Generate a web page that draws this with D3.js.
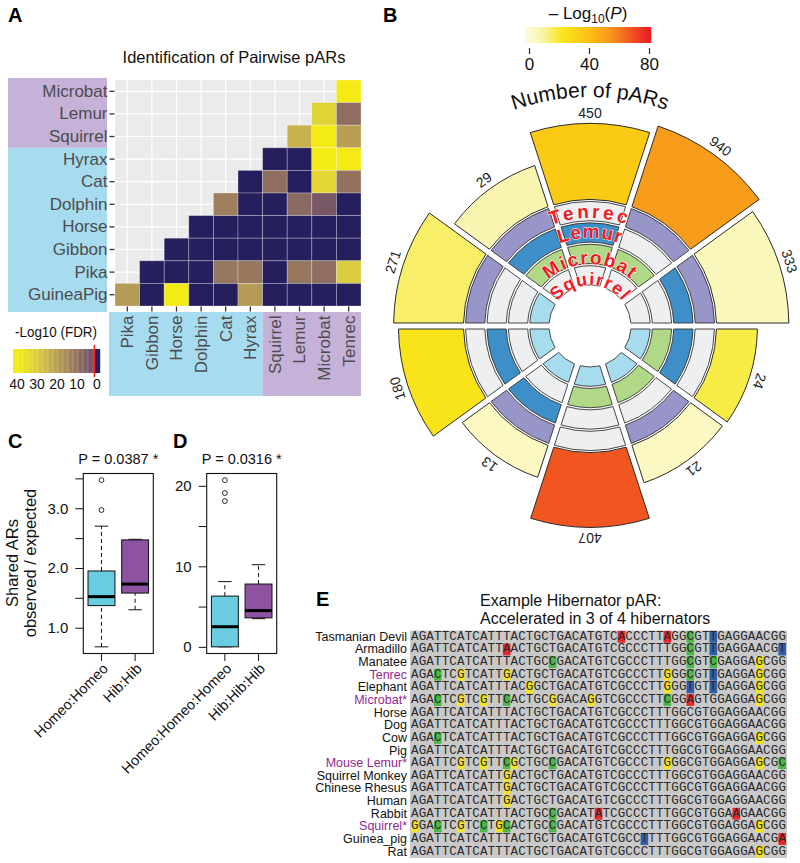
<!DOCTYPE html>
<html>
<head>
<meta charset="utf-8">
<script src="https://cdn.jsdelivr.net/npm/d3@7/dist/d3.min.js"></script>
<style>
  html,body{margin:0;padding:0;background:#ffffff;}
  svg{display:block;}
</style>
</head>
<body>
<svg id="fig" width="800" height="863" xmlns="http://www.w3.org/2000/svg"></svg>
<script>
// ================= DATA =================
// Panel A : pairwise pAR heatmap (-log10 FDR)
const heatRows = ["Microbat","Lemur","Squirrel","Hyrax","Cat","Dolphin","Horse","Gibbon","Pika","GuineaPig"];
const heatCols = ["Pika","Gibbon","Horse","Dolphin","Cat","Hyrax","Squirrel","Lemur","Microbat","Tenrec"];
const hibernators = ["Microbat","Lemur","Squirrel","Tenrec"];
const fdrValues = [
  [null,null,null,null,null,null,null,null,null,45],
  [null,null,null,null,null,null,null,null,32,9],
  [null,null,null,null,null,null,null,24,45,20],
  [null,null,null,null,null,null,0,0,45,45],
  [null,null,null,null,null,0,9,0,33,10],
  [null,null,null,null,13,0,0,8,4,0],
  [null,null,null,0,0,0,0,0,0,0],
  [null,null,0,0,0,0,0,0,0,0],
  [null,0,0,0,11,11,0,11,9,30],
  [19,0,45,0,0,19,0,0,0,0]
];
const fdrLegendTicks = [40,30,20,10,0];
const fdrThreshold = 1.3;

// Panel B : hibernator combinations
const ringSpecies = ["Squirrel","Microbat","Lemur","Tenrec"];
const ringColors = ["#a7dcef","#b0d886","#3e8fc8","#9896c8"];
const sectorCounts = [450,940,333,24,21,407,13,180,271,29];
const sectorLogP = [35,52,5,18,4,68,4,24,15,7];
const sectorMembers = [
  ["Microbat","Lemur"],["Microbat","Tenrec"],["Lemur","Tenrec"],
  ["Squirrel","Microbat","Lemur"],["Squirrel","Microbat","Tenrec"],["Squirrel","Microbat"],
  ["Squirrel","Lemur","Tenrec"],["Squirrel","Lemur"],["Squirrel","Tenrec"],
  ["Microbat","Lemur","Tenrec"]
];
const pLegendTicks = [0,40,80];

// Panel C : pairwise shared ARs (observed/expected)
const cGroups = ["Homeo:Homeo","Hib:Hib"];
const cLower = [0.68,1.30];
const cQ1 = [1.37,1.58];
const cMedian = [1.52,1.73];
const cQ3 = [1.95,2.47];
const cUpper = [2.70,2.48];
const cOutliers = [[3.47,2.97],[]];
const cTicks = [1.0,1.5,2.0,2.5,3.0,3.5];
const cTickLabels = [1.0,2.0,3.0];

// Panel D : triplet shared ARs
const dGroups = ["Homeo:Homeo:Homeo","Hib:Hib:Hib"];
const dLower = [0,3.5];
const dQ1 = [0,3.6];
const dMedian = [2.5,4.5];
const dQ3 = [6.3,7.8];
const dUpper = [8.1,10.2];
const dOutliers = [[20.7,19.1,18.1],[]];
const dTicks = [0,5,10,15,20];
const dTickLabels = [0,10,20];

// Panel E : alignment
const alnSpecies = ["Tasmanian Devil","Armadillo","Manatee","Tenrec","Elephant","Microbat*","Horse","Dog","Cow","Pig","Mouse Lemur*","Squirrel Monkey","Chinese Rhesus","Human","Rabbit","Squirrel*","Guinea_pig","Rat"];
const alnHibernator = ["Tenrec","Microbat*","Mouse Lemur*","Squirrel*"];
const alnSeqs = [
  "AGATTCATCATTTACTGCTGACATGTCACCCTTAGGCGTTGAGGAACGG",
  "AGATTCATCATTAACTGCTGACATGTCGCCCTTTGGCGTTGAGGAACGT",
  "AGATTCATCATTTACTGCCGACATGTCGCCCTTTGGCGTCGAGGAGCGG",
  "AGACTCGTCATTGACTGCTGACATGTCGCCCTTGGGCGTTGAGGAGCGG",
  "AGATTCATCATTTACGGCTGACATGTCGCCCTTGGGTGTTGAGGAGCGG",
  "AGACTCGTCGTTCACTGCGGACAGGTCGCCCTTCGGAGTGGAGGAGCGG",
  "AGATTCATCATTTACTGCTGACATGTCGCCCTTTGGCGTGGAGGAACGG",
  "AGATTCATCATTTACTGCTGACATGTCGCCCTTTGGCGTGGAGGAACGG",
  "AGACTCATCATTTACTGCTGACATGTCGCCCTTTGGCGTGGAGGAGCGG",
  "AGATTCATCATTTACTGCTGACATGTCGCCCTTTGGCGTGGAGGAACGG",
  "AGATTCGTCGTTCGCTGCCGACATGTCGCCCTTGGGCGTGGAGGAGCGC",
  "AGATTCATCATTGACTGCTGACATGTCGCCCTTTGGCGTGGAGGAACGG",
  "AGATTCATCATTGACTGCTGACATGTCGCCCTTTGGCGTGGAGGAACGG",
  "AGATTCATCATTGACTGCTGACATGTCGCCCTTTGGCGTGGAGGAACGG",
  "AGATTCATCATTTACTGCCGACATATCGCCCTTTGGCGTGGAAGAACGG",
  "GGACTCGTCCTGCACTGCCGACATGTCGCCCTTTGGCGTGGAGGAGCGG",
  "AGATTCATCATTTACTGCTGACATGTCGCCTTTTGGCGTGGAGGAACGA",
  "AGATTCATCATTTACTGCTGACATGTCGCCCTTTGGCGTGGAGGAGCGG"
];
const alnHighlights = [
  [27,33,36,39],[12,36,39,48],[18,36,39,45],[3,6,12,33,36,39,45],[15,33,36,39,45],
  [3,6,9,12,18,23,33,36,45],[],[],[3,45],[],[6,9,12,13,18,33,45,48],
  [12],[12],[12],[18,24,42],[0,3,6,9,11,12,18,45],[30,48],[45]
];
const baseColors = {A:"#e8262b", C:"#4cb748", G:"#f3e51f", T:"#2f5ea9"};

// ================= DRAWING =================
const FONT = "'Liberation Sans', Arial, Helvetica, sans-serif";
const svg = d3.select("#fig").attr("font-family", FONT);
const defs = svg.append("defs");

// Panel letters
const letters = [["A",8,22],["B",383,22],["C",8,448],["D",173,448],["E",316,606]];
svg.append("g").selectAll("text").data(letters).join("text")
  .attr("x", d => d[1]).attr("y", d => d[2])
  .attr("font-size", 20).attr("font-weight", "bold").attr("fill", "#000")
  .text(d => d[0]);

// ---------------- Panel A ----------------
(function(){
  const PURPLE_BG = "#c6b1d8", BLUE_BG = "#a6dbf0";
  const g = svg.append("g");
  const x = d3.scaleBand().domain(heatCols).range([115, 361]);
  const y = d3.scaleBand().domain(heatRows).range([80, 306]);

  g.append("text").attr("x", 234).attr("y", 63).attr("text-anchor","middle")
    .attr("font-size", 16.5).attr("fill","#111").text("Identification of Pairwise pARs");

  // label boxes
  const topHib = y("Microbat") - 2, firstHomeo = y("Hyrax");
  g.append("rect").attr("x",8).attr("y",topHib).attr("width",99).attr("height",firstHomeo-topHib).attr("fill",PURPLE_BG);
  g.append("rect").attr("x",8).attr("y",firstHomeo).attr("width",99).attr("height",312-firstHomeo).attr("fill",BLUE_BG);
  g.append("rect").attr("x",109).attr("y",312).attr("width",x("Squirrel")-109).attr("height",84).attr("fill",BLUE_BG);
  g.append("rect").attr("x",x("Squirrel")).attr("y",312).attr("width",361-x("Squirrel")).attr("height",84).attr("fill",PURPLE_BG);

  // panel background + grid
  g.append("rect").attr("x",115).attr("y",80).attr("width",246).attr("height",226).attr("fill","#ebebeb");
  g.selectAll("line.gx").data(heatCols).join("line")
    .attr("x1", d => x(d)+x.bandwidth()/2).attr("x2", d => x(d)+x.bandwidth()/2)
    .attr("y1",80).attr("y2",306).attr("stroke","#fff").attr("stroke-width",1.2);
  g.selectAll("line.gy").data(heatRows).join("line")
    .attr("y1", d => y(d)+y.bandwidth()/2).attr("y2", d => y(d)+y.bandwidth()/2)
    .attr("x1",115).attr("x2",361).attr("stroke","#fff").attr("stroke-width",1.2);

  const fdrScale = d3.scaleLinear().domain([fdrThreshold,10,20,30,40])
    .range(["#6c4b6b","#93735f","#b89f55","#dbcd3f","#f5eb14"]).clamp(true);
  const NAVY = "#251f5d";
  const colorOf = v => v < fdrThreshold ? NAVY : fdrScale(v);

  const cells = [];
  fdrValues.forEach((row,i) => row.forEach((v,j) => { if (v !== null) cells.push({r:heatRows[i], c:heatCols[j], v}); }));
  g.selectAll("rect.tile").data(cells).join("rect")
    .attr("x", d => x(d.c)).attr("y", d => y(d.r))
    .attr("width", x.bandwidth()).attr("height", y.bandwidth())
    .attr("fill", d => colorOf(d.v))
    .attr("stroke","rgba(255,255,255,0.35)").attr("stroke-width",0.8);

  // axes
  const gy = g.append("g").attr("transform","translate(114.5,0)")
    .call(d3.axisLeft(y).tickSize(5).tickPadding(2));
  gy.attr("font-family", FONT).attr("font-size", 17);
  gy.select(".domain").remove();
  gy.selectAll("line").attr("stroke","#333").attr("stroke-width",1.3);
  gy.selectAll("text").attr("fill","#4d4d4d");

  const gx = g.append("g").attr("transform","translate(0,306.5)")
    .call(d3.axisBottom(x).tickSize(5).tickPadding(2));
  gx.attr("font-family", FONT).attr("font-size", 17);
  gx.select(".domain").remove();
  gx.selectAll("line").attr("stroke","#333").attr("stroke-width",1.3);
  gx.selectAll("text").attr("transform","rotate(-90)").attr("x",-9).attr("y",0)
    .attr("dy","0.35em").attr("text-anchor","end").attr("fill","#4d4d4d");

  // legend
  g.append("text").attr("x",15).attr("y",337).attr("font-size",14).attr("fill","#111")
    .attr("textLength",82).attr("lengthAdjust","spacingAndGlyphs").text("-Log10 (FDR)");
  const lx = d3.scaleLinear().domain([40,0]).range([17,97]);
  const bins = d3.range(42, fdrThreshold, -2.5);
  g.selectAll("rect.lg").data(bins).join("rect")
    .attr("x", d => lx(d)).attr("width", d => lx(Math.max(d-2.5, fdrThreshold)) - lx(d) + 0.3)
    .attr("y",349).attr("height",24).attr("fill", d => fdrScale(d - 1.25));
  g.selectAll("line.lgsep").data(bins.slice(1)).join("line")
    .attr("x1", d => lx(d)).attr("x2", d => lx(d)).attr("y1",349).attr("y2",373)
    .attr("stroke","rgba(255,255,255,0.35)").attr("stroke-width",0.6);
  g.append("rect").attr("x", lx(fdrThreshold)).attr("width", lx(-1.6)-lx(fdrThreshold))
    .attr("y",349).attr("height",24).attr("fill",NAVY);
  g.append("line").attr("x1", lx(fdrThreshold)).attr("x2", lx(fdrThreshold))
    .attr("y1",345).attr("y2",377).attr("stroke","#ff1a1a").attr("stroke-width",1.6);
  g.selectAll("text.lt").data(fdrLegendTicks).join("text")
    .attr("x", d => lx(d)).attr("y",389).attr("text-anchor","middle")
    .attr("font-size",14).attr("fill","#111").text(d => d);
})();

// ---------------- Panel B ----------------
(function(){
  const cx = 590, cy = 326;
  const g = svg.append("g").attr("transform", `translate(${cx},${cy})`);
  const pScale = d3.scaleLinear().domain([0,10,22,40,55,80])
    .range(["#fdfbd8","#f7f3a0","#f9e81a","#fcbf12","#f7941d","#ec1c24"]).clamp(true);
  const ang = d3.scaleBand().domain(d3.range(sectorCounts.length))
    .range([-Math.PI/10, 2*Math.PI - Math.PI/10]);
  const ringR = d3.scaleBand().domain(ringSpecies).range([41, 124.5]).paddingInner(0.1);
  const barInner = 126.5;
  const rOut = d3.scaleLog().domain([10,1000]).range([157,212]);
  const arc = d3.arc().padAngle(0.06).padRadius(100);

  const sectors = sectorCounts.map((n,i) => ({i, n, p: sectorLogP[i], members: sectorMembers[i],
    a0: ang(i), a1: ang(i) + ang.bandwidth()}));

  // rings
  const ringCells = [];
  sectors.forEach(s => ringSpecies.forEach((sp,k) => ringCells.push({s, sp, k, on: s.members.includes(sp)})));
  g.selectAll("path.ring").data(ringCells).join("path")
    .attr("d", d => arc({innerRadius: ringR(d.sp), outerRadius: ringR(d.sp)+ringR.bandwidth(), startAngle: d.s.a0, endAngle: d.s.a1}))
    .attr("fill", d => d.on ? ringColors[d.k] : "#eeeff1")
    .attr("stroke","#333").attr("stroke-width",0.9);

  // bars
  g.selectAll("path.bar").data(sectors).join("path")
    .attr("d", d => arc({innerRadius: barInner, outerRadius: rOut(d.n), startAngle: d.a0, endAngle: d.a1}))
    .attr("fill", d => pScale(d.p)).attr("stroke","#2a2a2a").attr("stroke-width",1);

  // count labels
  g.selectAll("text.cnt").data(sectors).join("text")
    .attr("transform", d => {
      const a = (d.a0 + d.a1)/2, r = rOut(d.n) + 11;
      return `translate(${r*Math.sin(a)},${-r*Math.cos(a)}) rotate(${a*180/Math.PI})`;
    })
    .attr("text-anchor","middle").attr("dominant-baseline","central")
    .attr("font-size",14).attr("fill","#222").text(d => d.n);

  // curved texts
  function arcPath(id, r){
    defs.append("path").attr("id", id)
      .attr("d", `M ${-r},0 A ${r},${r} 0 0,1 ${r},0`);
  }
  arcPath("npars", 229);
  g.append("text").attr("font-size",21).attr("fill","#111")
    .append("textPath").attr("href","#npars").attr("startOffset","50%").attr("text-anchor","middle")
    .text("Number of pARs");

  const ringLabelR = {Tenrec:108, Lemur:88, Microbat:62, Squirrel:41};
  const ringLabelSize = {Tenrec:19, Lemur:19, Microbat:19, Squirrel:18};
  const ringLabelSpacing = {Tenrec:3, Lemur:1, Microbat:1.5, Squirrel:1};
  ringSpecies.forEach(sp => {
    arcPath("rl_"+sp, ringLabelR[sp]);
    g.append("text").attr("font-size", ringLabelSize[sp]).attr("font-weight","bold")
      .attr("fill","#ee1c25").attr("stroke","#fff").attr("stroke-width",1)
      .attr("paint-order","stroke").attr("letter-spacing", ringLabelSpacing[sp])
      .append("textPath").attr("href","#rl_"+sp).attr("startOffset","50%").attr("text-anchor","middle")
      .text(sp);
  });

  // colour legend
  const lx = d3.scaleLinear().domain([0,80]).range([529,649]);
  const grad = defs.append("linearGradient").attr("id","pgrad")
    .attr("gradientUnits","userSpaceOnUse").attr("x1",lx(-2.6)).attr("x2",lx(81.5)).attr("y1",0).attr("y2",0);
  d3.range(-2.6, 81.6, 4).forEach(v => grad.append("stop")
    .attr("offset", (v + 2.6)/(84.1)).attr("stop-color", pScale(Math.max(0,v))));
  svg.append("rect").attr("x",lx(-2.6)).attr("y",27).attr("width",lx(81.5)-lx(-2.6)).attr("height",16)
    .attr("fill","url(#pgrad)");
  const ga = svg.append("g").attr("transform","translate(0,48)")
    .call(d3.axisBottom(lx).tickValues(pLegendTicks).tickSize(6).tickPadding(4));
  ga.attr("font-family",FONT).attr("font-size",17);
  ga.select(".domain").remove();
  ga.selectAll("line").attr("stroke","#333").attr("stroke-width",1.2);
  ga.selectAll("text").attr("fill","#111");
  const t = svg.append("text").attr("x",588).attr("y",19).attr("text-anchor","middle")
    .attr("font-size",17).attr("fill","#111");
  t.append("tspan").text("\u2013 Log");
  t.append("tspan").attr("font-size",12).attr("dy",4).text("10");
  t.append("tspan").attr("dy",-4).text("(");
  t.append("tspan").attr("font-style","italic").text("P");
  t.append("tspan").text(")");
})();

// ---------------- Panels C & D ----------------
function boxPanel(groups, lower, q1, med, q3, upper, outl, xRange, ticks, labelTicks, fmt, title){
  const g = svg.append("g");
  const all = lower.concat(upper, ...outl);
  const lo = d3.min(all), hi = d3.max(all), pad = 0.04*(hi-lo);
  const y = d3.scaleLinear().domain([lo-pad, hi+pad]).range([653.5, 473.5]);
  const x = d3.scaleLinear().domain([0.46, 2.54]).range(xRange);
  const fills = ["#68cde0","#8d53a1"];
  const bw = x(1.4) - x(0.6);
  groups.forEach((grp,i) => {
    const cxp = x(i+1);
    [[q3[i],upper[i]],[lower[i],q1[i]]].forEach(([a,b]) => {
      g.append("line").attr("x1",cxp).attr("x2",cxp).attr("y1",y(a)).attr("y2",y(b))
        .attr("stroke","#111").attr("stroke-width",1).attr("stroke-dasharray","4,3");
    });
    [upper[i], lower[i]].forEach(v => g.append("line").attr("x1",cxp-bw/4).attr("x2",cxp+bw/4)
      .attr("y1",y(v)).attr("y2",y(v)).attr("stroke","#111").attr("stroke-width",1));
    g.append("rect").attr("x",cxp-bw/2).attr("width",bw).attr("y",y(q3[i])).attr("height",y(q1[i])-y(q3[i]))
      .attr("fill",fills[i]).attr("stroke","#111").attr("stroke-width",1);
    g.append("line").attr("x1",cxp-bw/2).attr("x2",cxp+bw/2).attr("y1",y(med[i])).attr("y2",y(med[i]))
      .attr("stroke","#000").attr("stroke-width",3);
    outl[i].forEach(v => g.append("circle").attr("cx",cxp).attr("cy",y(v)).attr("r",2.4)
      .attr("fill","none").attr("stroke","#111").attr("stroke-width",0.9));
    g.append("line").attr("x1",cxp).attr("x2",cxp).attr("y1",653.5).attr("y2",661).attr("stroke","#111");
    g.append("text").attr("transform",`translate(${cxp+4},666) rotate(-45)`)
      .attr("text-anchor","end").attr("dominant-baseline","central")
      .attr("font-size",14.5).attr("fill","#111").text(grp);
  });
  g.append("rect").attr("x",xRange[0]).attr("y",473.5).attr("width",xRange[1]-xRange[0]).attr("height",180)
    .attr("fill","none").attr("stroke","#111").attr("stroke-width",1.1);
  const ax = g.append("g").attr("transform",`translate(${xRange[0]},0)`)
    .call(d3.axisLeft(y).tickValues(ticks).tickSize(8).tickPadding(7)
      .tickFormat(d => labelTicks.includes(d) ? fmt(d) : ""));
  ax.attr("font-family",FONT).attr("font-size",15);
  ax.select(".domain").remove();
  ax.selectAll("line").attr("stroke","#111");
  ax.selectAll("text").attr("fill","#111");
  g.append("text").attr("x",(xRange[0]+xRange[1])/2).attr("y",464).attr("text-anchor","middle")
    .attr("font-size",14.5).attr("fill","#111").text(title);
}
boxPanel(cGroups, cLower, cQ1, cMedian, cQ3, cUpper, cOutliers, [83.3,153.3], cTicks, cTickLabels, d3.format(".1f"), "P = 0.0387 *");
boxPanel(dGroups, dLower, dQ1, dMedian, dQ3, dUpper, dOutliers, [206.7,276.7], dTicks, dTickLabels, d3.format("d"), "P = 0.0316 *");
svg.append("text").attr("transform","translate(18,563) rotate(-90)").attr("text-anchor","middle")
  .attr("font-size",16.5).attr("fill","#111").text("Shared ARs");
svg.append("text").attr("transform","translate(36,563) rotate(-90)").attr("text-anchor","middle")
  .attr("font-size",16.5).attr("fill","#111").text("observed / expected");

// ---------------- Panel E ----------------
(function(){
  const g = svg.append("g");
  g.append("text").attr("x",480).attr("y",606).attr("font-size",16).attr("fill","#111").text("Example Hibernator pAR:");
  g.append("text").attr("x",480).attr("y",624).attr("font-size",16).attr("fill","#111").text("Accelerated in 3 of 4 hibernators");
  const y = d3.scaleBand().domain(alnSpecies).range([630.5, 858]);
  const nChar = alnSeqs[0].length;
  const x = d3.scaleBand().domain(d3.range(nChar)).range([411, 786]);
  g.append("rect").attr("x",410).attr("y",630.5).attr("width",377).attr("height",227.5).attr("fill","#c9c9c9");
  g.selectAll("text.sp").data(alnSpecies).join("text")
    .attr("x",407).attr("y", d => y(d)+y.bandwidth()/2).attr("text-anchor","end")
    .attr("dominant-baseline","central").attr("font-size",12.5)
    .attr("fill", d => alnHibernator.includes(d) ? "#93278f" : "#111").text(d => d);
  const hl = [];
  alnHighlights.forEach((arr,i) => arr.forEach(p => hl.push({sp: alnSpecies[i], p, b: alnSeqs[i][p]})));
  g.selectAll("rect.hl").data(hl).join("rect")
    .attr("x", d => x(d.p)).attr("width", x.bandwidth())
    .attr("y", d => y(d.sp)+0.4).attr("height", y.bandwidth()-0.8)
    .attr("fill", d => baseColors[d.b]);
  const chars = [];
  alnSeqs.forEach((s,i) => s.split("").forEach((c,p) => chars.push({sp: alnSpecies[i], p, c})));
  g.selectAll("text.ch").data(chars).join("text")
    .attr("x", d => x(d.p)+x.bandwidth()/2).attr("y", d => y(d.sp)+y.bandwidth()/2)
    .attr("text-anchor","middle").attr("dominant-baseline","central")
    .attr("font-family","'Liberation Mono', 'DejaVu Sans Mono', monospace").attr("font-size",12.5)
    .attr("fill","#2a2a2a").text(d => d.c);
})();
</script>
</body>
</html>
